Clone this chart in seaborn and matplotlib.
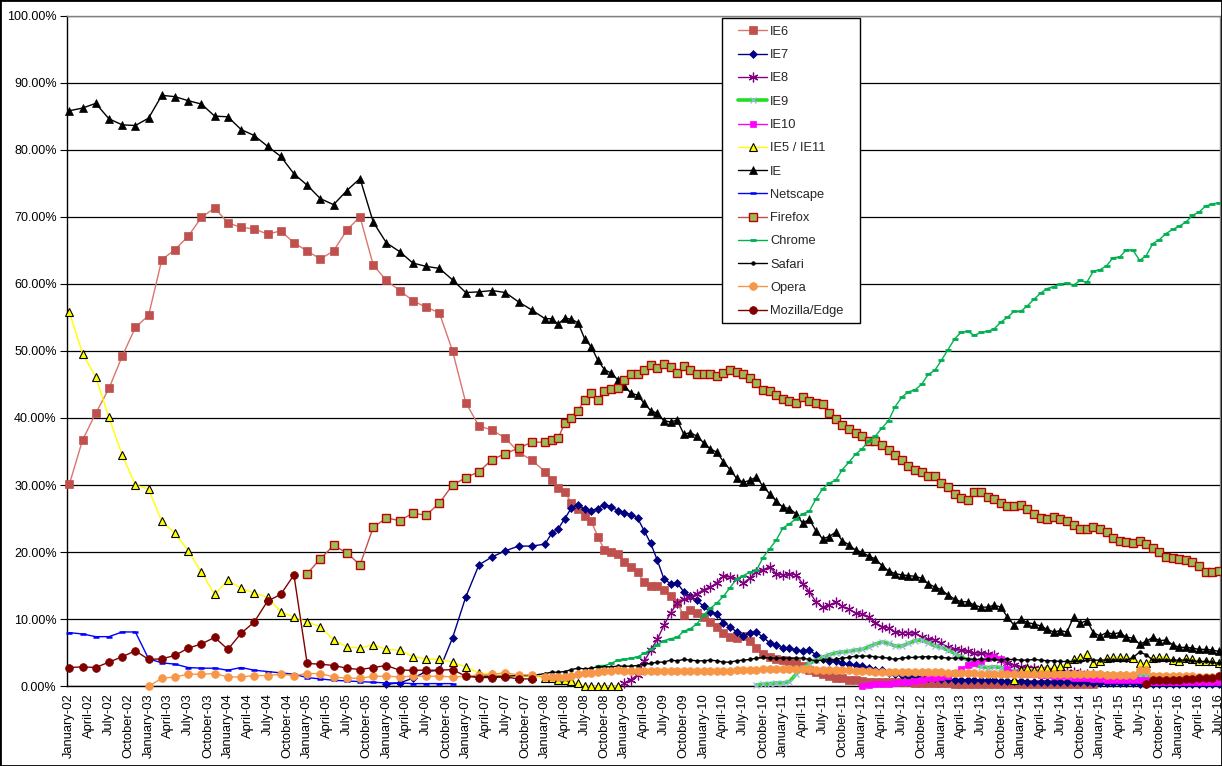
import numpy as np
import pandas as pd
import matplotlib
matplotlib.use("Agg")
import matplotlib.pyplot as plt
from matplotlib.lines import Line2D
from matplotlib.patches import Rectangle
import seaborn as sns

sns.set_style("white")
plt.rcParams['font.family'] = ['Liberation Sans', 'DejaVu Sans']

# ---------------- data ----------------
# samples: every second month 2002-2007, monthly from 2008
sample_dates = list(pd.date_range("2002-01-01", "2007-11-01", freq="2MS")) + \
               list(pd.date_range("2008-01-01", "2016-07-01", freq="MS"))
tick_dates = pd.date_range("2002-01-01", "2016-07-01", freq="3MS")
tick_labels = [d.strftime("%B-%y") for d in tick_dates]

ie6_start = "2002-01"
ie6 = [30.1, 36.7, 40.7, 44.4, 49.2, 53.5, 55.3, 63.6, 65.1, 67.1, 69.9, 71.3, 69.1, 68.4, 68.2, 67.4,
       67.9, 66.1, 64.9, 63.7, 64.9, 68.0, 70.0, 62.8, 60.5, 59.0, 57.5, 56.5, 55.7, 50.0, 42.3, 38.8,
       38.2, 37.0, 34.9, 33.7,
       32.0, 30.7, 29.6, 29.0, 27.3, 26.4, 25.4, 24.6, 22.3, 20.3, 20.0, 19.7, 18.5, 17.8, 17.0, 15.5,
       14.9, 15.0, 14.4, 13.5, 12.4, 10.6, 11.3, 11.0, 10.3, 9.6, 8.9, 7.9, 7.3, 7.2, 7.5, 6.7, 5.7,
       4.8, 4.3, 4.0, 3.9, 3.7, 3.5, 3.0, 2.4, 2.2, 1.9, 1.5, 1.3, 1.2, 1.0, 0.9, 0.8, 0.7,
       0.7, 0.7, 0.6, 0.6, 0.6, 0.6, 0.5, 0.5, 0.5, 0.5, 0.5, 0.5, 0.4, 0.4, 0.4, 0.4, 0.4, 0.4, 0.4,
       0.4, 0.4, 0.3, 0.3, 0.3, 0.3, 0.3, 0.3, 0.3, 0.3, 0.3, 0.3, 0.3, 0.3, 0.3]

ie7_start = "2006-01"
ie7 = [0.3, 0.5, 1.2, 2.2, 2.4, 7.2, 13.3, 18.1, 19.3, 20.2, 20.9, 20.9,
       21.2, 22.8, 23.5, 25.0, 26.6, 27.0, 26.4, 26.2, 26.5, 27.1, 26.8, 26.2, 25.9, 25.6, 25.1, 23.2,
       21.3, 18.8, 16.0, 15.3, 15.4, 14.1, 13.4, 12.8, 11.9, 11.1, 10.8, 9.5, 8.9, 8.1, 7.5, 8.0, 8.1,
       7.3, 6.5, 6.2, 5.7, 5.7, 5.4, 5.3, 5.4, 4.7, 4.0, 3.8, 3.7, 3.5, 3.3, 3.2, 3.0, 2.7, 2.5, 2.4,
       2.0, 1.9,
       1.7, 1.6, 1.5, 1.4, 1.3, 1.2, 1.1, 1.1, 1.0, 1.0, 1.0, 0.9, 0.9, 0.9, 0.9, 0.8, 0.8, 0.8, 0.8,
       0.7, 0.7, 0.7, 0.7, 0.7, 0.6, 0.6, 0.6, 0.6, 0.6, 0.5, 0.5, 0.5, 0.5, 0.5, 0.5, 0.5, 0.4, 0.4,
       0.4, 0.4, 0.4, 0.4, 0.4, 0.4, 0.3, 0.3, 0.3, 0.3, 0.3]

ie8_start = "2009-01"
ie8 = [0.5, 1.0, 1.7, 3.7, 5.4, 7.0, 9.1, 10.9, 12.4, 13.0, 13.3, 13.8, 14.4, 14.8, 15.4, 16.4, 16.3,
       16.0, 15.4, 16.1, 17.1, 17.4, 17.8, 16.8, 16.6, 16.8, 16.6, 15.3, 14.1, 12.6, 11.8, 12.1, 12.5,
       11.9, 11.5, 10.9, 10.8, 10.3, 9.5, 8.9, 8.7, 8.1,
       8.0, 8.0, 7.9, 7.4, 7.0, 6.9, 6.4, 5.8, 5.5, 5.4, 5.2, 5.0, 4.9, 4.8, 4.7, 3.9, 3.4, 3.2, 2.9,
       2.8, 2.7, 2.6, 2.5, 2.4, 2.3, 2.2, 2.1, 2.0, 1.9, 1.8, 1.7, 1.6, 1.6, 1.5, 1.5, 1.4, 1.4, 1.3,
       1.3, 1.2, 1.2, 1.1, 1.1, 1.0, 1.0, 1.0, 0.9, 0.9, 0.9]

ie9_start = "2010-09"
ie9 = [0.2, 0.3, 0.4, 0.5, 0.5, 0.7, 1.8, 2.7, 3.4, 3.9, 4.3, 4.7, 5.0, 5.1, 5.2, 5.4, 5.5, 5.9, 6.3,
       6.6, 6.4, 6.0, 6.0, 6.4, 6.8, 6.9, 6.5, 6.0, 5.8, 5.4, 4.9, 4.4, 3.9, 3.2, 2.9, 2.8, 2.9, 2.8,
       2.4, 2.3, 2.2, 2.2,
       2.1, 2.1, 2.0, 2.0, 2.0, 1.9, 1.9, 1.9, 1.8, 1.8, 1.8, 1.7, 1.7, 1.7, 1.6, 1.6, 1.6, 1.5, 1.5,
       1.5, 1.5, 1.4, 1.4, 1.4, 1.4, 1.3, 1.3, 1.3, 1.3]

ie10_start = "2012-01"
ie10 = [0.1, 0.2, 0.3, 0.4, 0.4, 0.5, 0.6, 0.7, 0.8, 1.0, 1.2, 1.3, 1.4, 1.6, 2.0, 2.6, 3.2, 3.5, 3.8,
        4.2, 4.3, 4.1, 2.6, 2.0, 1.9, 1.8, 1.8, 1.7, 1.7, 1.6, 1.6, 1.5, 1.3, 1.2, 1.2, 1.1, 1.1, 1.0,
        1.0, 1.0, 1.0, 1.0, 1.0, 1.0, 0.7, 0.7, 0.7, 0.7, 0.6, 0.6, 0.6, 0.6, 0.6, 0.6, 0.6]

ie5_start = "2002-01"
ie5 = [55.8, 49.6, 46.1, 40.1, 34.5, 30.0, 29.4, 24.6, 22.8, 20.2, 17.0, 13.7, 15.8, 14.6, 13.9, 13.3,
       11.1, 10.3, 9.6, 8.9, 6.9, 5.9, 5.7, 6.2, 5.5, 5.4, 4.4, 4.1, 4.0, 3.6, 2.9, 2.0, 1.8, 1.8, 1.5,
       1.5,
       1.3, 1.2, 1.0, 0.9, 0.8, 0.5, 0.0, 0.0, 0.0, 0.0, 0.0, 0.0]
ie11_start = "2013-12"
ie11 = [1.0, 2.4, 2.7, 2.5, 2.7, 2.7, 2.9, 3.0, 3.4, 4.0, 4.4, 4.8, 3.5, 3.7, 4.2, 4.3, 4.4, 4.3, 4.2,
        3.5, 3.5, 4.2, 4.3, 4.4, 3.9, 3.8, 4.2, 4.0, 3.8, 3.7, 3.8, 3.4]

ie_start = "2002-01"
ie = [85.8, 86.2, 86.9, 84.6, 83.7, 83.6, 84.7, 88.1, 87.9, 87.3, 86.8, 85.0, 84.9, 83.0, 82.1, 80.5,
      79.0, 76.4, 74.7, 72.7, 71.8, 73.9, 75.7, 69.2, 66.1, 64.8, 63.1, 62.6, 62.3, 60.6, 58.7, 58.8,
      59.0, 58.7, 57.3, 56.1,
      54.8, 54.8, 54.0, 54.9, 54.7, 54.2, 51.8, 50.6, 48.6, 47.2, 46.7, 45.7,
      44.8, 43.7, 43.4, 42.2, 41.1, 40.7, 39.6, 39.4, 39.7, 37.6, 37.8, 37.3, 36.3, 35.4, 34.9, 33.5,
      32.3, 31.0, 30.4, 30.7, 31.2, 29.8, 28.7, 27.6, 26.7, 26.5, 25.7, 24.3, 24.9, 23.2, 22.0, 22.3,
      23.0, 21.7, 21.1, 20.3, 20.0, 19.4, 19.0, 18.0, 17.2, 16.8,
      16.6, 16.5, 16.4, 16.1, 15.3, 14.8, 14.4, 13.6, 13.0, 12.6, 12.6, 12.1, 11.8, 11.8, 12.1, 11.8,
      10.3, 9.1, 10.0, 9.5, 9.3, 9.0, 8.5, 8.1, 8.3, 8.1, 10.3, 9.4, 9.8, 8.0, 7.5, 8.0, 7.8, 8.0,
      7.3, 7.2, 6.3, 6.7, 7.3, 6.8, 6.9, 6.2, 5.8, 5.8, 5.7, 5.5, 5.5, 5.4, 5.2]

netscape_start = "2002-01"
netscape = [8.0, 7.8, 7.4, 7.4, 8.1, 8.1, 4.1, 3.5, 3.3, 2.8, 2.7, 2.7, 2.4, 2.8, 2.4, 2.2, 2.0, 1.8,
            1.3, 1.1, 0.9, 0.8, 0.7, 0.6, 0.5, 0.5, 0.4, 0.4, 0.4, 0.4]

firefox_start = "2005-01"
firefox = [16.8, 19.0, 21.0, 19.9, 18.1, 23.7, 25.1, 24.7, 25.8, 25.5, 27.3, 30.0, 31.1, 32.0, 33.8,
           34.7, 35.5, 36.4,
           36.4, 36.7, 37.0, 39.3, 40.0, 41.1, 42.7, 43.7, 42.7,
           44.0, 44.3, 44.5, 45.7, 46.6, 46.6, 47.2, 47.9, 47.5, 48.1, 47.6, 46.7, 47.7, 47.2, 46.6,
           46.5, 46.6, 46.3, 46.7, 47.1, 46.8, 46.6, 46.0, 45.2, 44.2, 44.0, 43.5, 42.9, 42.5, 42.2,
           43.1, 42.6, 42.3, 42.1, 40.8, 39.9, 38.9, 38.3, 37.8, 37.3, 36.5, 36.5, 35.9, 35.2, 34.5,
           33.8, 32.9, 32.3, 31.9,
           31.4, 31.3, 30.3, 29.7, 28.6, 28.0, 27.8, 29.0, 29.0, 28.2, 27.9, 27.3, 26.9, 26.9, 27.1,
           26.5, 25.7, 25.1, 24.9, 25.2, 24.9, 24.7, 24.1, 23.4, 23.4, 23.7, 23.4, 23.0, 22.1, 21.7,
           21.5, 21.4, 21.7, 21.2, 20.6, 20.0, 19.3, 19.1, 19.0, 18.9, 18.6, 18.0, 17.0, 17.0, 17.2]

chrome_start = "2008-09"
chrome = [3.1, 3.1, 3.4, 3.9, 4.0, 4.2, 4.4, 4.9, 5.5, 6.2, 6.8, 7.1, 7.3, 8.2, 8.6, 9.3, 10.6, 11.6,
          12.4, 13.4, 14.7, 16.0, 16.5, 17.0, 17.3,
          19.2, 20.5, 21.8, 23.6, 24.2, 25.0, 25.7, 26.1, 27.9, 29.4, 30.3, 30.7, 32.3, 33.4, 34.6,
          35.4, 36.6, 37.3, 38.5, 39.6, 41.7, 43.1, 43.9, 44.2, 45.0,
          46.5, 47.1, 48.6, 50.2, 51.8, 52.8, 52.9, 52.3, 52.8, 52.9, 53.3, 54.3, 55.0, 55.9, 55.9,
          56.7, 57.7, 58.6, 59.3, 59.6, 60.0, 60.1, 59.8, 60.5, 60.2, 61.9, 62.1, 62.7, 63.9, 64.0,
          65.1, 65.0, 63.5, 64.2, 66.0, 66.6, 67.5, 68.1, 68.6, 69.2, 70.2, 70.7, 71.6, 71.9, 72.1]

safari_start = "2007-01"
safari = [1.5, 1.5, 1.5, 1.5, 1.6, 1.6,
          1.9, 2.1, 2.1, 2.2, 2.5, 2.7, 2.6, 2.7, 2.9, 2.9, 2.9, 3.0,
          3.0, 3.0, 3.1, 3.3, 3.4, 3.6, 3.6, 3.9, 3.8, 4.0, 3.9, 3.8, 3.8, 3.9, 3.8, 3.6, 3.6, 3.8,
          3.9, 4.0, 4.2, 4.3, 4.2, 4.2, 4.2, 4.2, 4.2, 4.2, 4.0, 3.8, 3.9, 4.0, 4.0, 4.2, 4.3, 4.5,
          4.5, 4.5, 4.4, 4.3, 4.2, 4.0,
          4.2, 4.3, 4.3, 4.4, 4.4, 4.4, 4.3, 4.2, 4.2, 4.2, 4.1, 4.0, 4.0, 4.0, 4.0, 3.9, 4.0, 4.0,
          3.9, 3.9, 4.0, 3.9, 3.8, 3.8, 3.7, 3.7, 3.7, 3.8, 3.9, 3.9, 3.9, 3.9, 3.9, 3.9, 3.9, 4.3,
          5.1, 4.7, 3.9, 3.9, 3.9, 3.9, 3.9, 3.9, 3.8, 3.7, 3.7, 3.6, 3.4]

opera_start = "2003-01"
opera = [0.0, 1.2, 1.4, 1.8, 1.8, 1.9, 1.4, 1.4, 1.6, 1.6, 1.8, 1.6, 1.9, 1.9, 1.4, 1.2, 1.2, 1.5,
         1.5, 1.4, 1.5, 1.5, 1.5, 1.4, 1.5, 1.7, 1.8, 2.0, 1.7, 1.7,
         1.4, 1.4, 1.4, 1.4, 1.5, 1.9, 2.0, 2.0, 2.2, 2.3, 2.3, 2.4,
         2.3, 2.3, 2.3, 2.3, 2.3, 2.3, 2.3, 2.3, 2.3, 2.3, 2.3, 2.3, 2.3, 2.3, 2.3, 2.3, 2.3,
         2.4, 2.4, 2.5, 2.5, 2.6, 2.6, 2.6, 2.6, 2.6, 2.6, 2.6, 2.6,
         2.5, 2.5, 2.4, 2.4, 2.4, 2.4, 2.3, 2.3, 2.3, 2.2, 2.2, 2.2, 2.2,
         2.2, 2.2, 2.2, 2.2, 2.2, 2.1, 2.1, 2.0, 2.0, 2.0, 2.0, 2.0, 1.9, 1.9, 1.9, 1.9, 1.9, 1.9,
         1.9, 1.9, 1.9, 1.9, 1.8, 1.8, 1.8, 1.8, 1.8, 1.8, 1.8, 1.8, 1.8, 1.7, 1.7, 1.7, 1.7, 1.7,
         2.5, 2.4,
         1.6, 1.6, 1.5, 1.5, 1.5, 1.5, 1.5, 1.4, 1.4, 1.4, 1.5]

mozilla_start = "2002-01"
mozilla = [2.8, 2.9, 2.8, 3.6, 4.4, 5.3, 4.0, 4.1, 4.6, 5.7, 6.3, 7.3, 5.5, 7.9, 9.6, 12.7, 13.7,
           16.6, 3.4, 3.3, 3.1, 2.7, 2.5, 2.8, 3.1, 2.4, 2.4, 2.4, 2.4, 2.5, 1.5, 1.3, 1.3, 1.4, 1.1,
           1.1]
edge_start = "2015-08"
edge = [0.3, 0.9, 0.9, 1.0, 1.0, 1.0, 1.1, 1.1, 1.2, 1.2, 1.3, 1.5]

# ---------------- helpers ----------------
month_idx = np.array([(d.year - 2002) * 12 + d.month - 1 for d in sample_dates], dtype=float)
keys = [d.strftime("%Y-%m") for d in sample_dates]


def seg(start, vals):
    i = keys.index(start)
    return month_idx[i:i + len(vals)], np.array(vals, dtype=float)


styles = [
    ("IE6", [seg(ie6_start, ie6)], dict(color="#D9756F", marker="s", markersize=5.2,
                                         markerfacecolor="#C0504D", markeredgecolor="#C0504D",
                                         markeredgewidth=0.5, linewidth=1.0)),
    ("IE7", [seg(ie7_start, ie7)], dict(color="#000080", marker="D", markersize=3.6,
                                         markerfacecolor="#000080", markeredgecolor="#000080",
                                         markeredgewidth=0.5, linewidth=1.0)),
    ("IE8", [seg(ie8_start, ie8)], dict(color="#800080", marker=(6, 2, 0), markersize=7,
                                         markerfacecolor="#800080", markeredgecolor="#800080",
                                         markeredgewidth=0.9, linewidth=1.0)),
    ("IE9", [seg(ie9_start, ie9)], dict(color="#22DD22", marker="x", markersize=5,
                                         markerfacecolor="#9DB5E0", markeredgecolor="#9DB5E0",
                                         markeredgewidth=0.9, linewidth=2.6)),
    ("IE10", [seg(ie10_start, ie10)], dict(color="#FF00FF", marker="s", markersize=5,
                                           markerfacecolor="#FF00FF", markeredgecolor="#FF00FF",
                                           markeredgewidth=0.5, linewidth=1.0)),
    ("IE5 / IE11", [seg(ie5_start, ie5), seg(ie11_start, ie11)],
     dict(color="#FFFF00", marker="^", markersize=5.2, markerfacecolor="#FFFF00",
          markeredgecolor="black", markeredgewidth=0.8, linewidth=1.0)),
    ("IE", [seg(ie_start, ie)], dict(color="black", marker="^", markersize=5.6,
                                       markerfacecolor="black", markeredgecolor="black",
                                       markeredgewidth=0.5, linewidth=1.0)),
    ("Netscape", [seg(netscape_start, netscape)], dict(color="#0000FF", marker="_", markersize=4,
                                                        markerfacecolor="#0000FF",
                                                        markeredgecolor="#0000FF",
                                                        markeredgewidth=1.8, linewidth=1.0)),
    ("Firefox", [seg(firefox_start, firefox)], dict(color="#C0504D", marker="s", markersize=5.6,
                                                     markerfacecolor="#9BBB59",
                                                     markeredgecolor="#C00000",
                                                     markeredgewidth=1.0, linewidth=1.0)),
    ("Chrome", [seg(chrome_start, chrome)], dict(color="#00B050", marker="_", markersize=4.5,
                                                  markerfacecolor="#00B050",
                                                  markeredgecolor="#00B050",
                                                  markeredgewidth=2.0, linewidth=1.0)),
    ("Safari", [seg(safari_start, safari)], dict(color="black", marker="o", markersize=2.6,
                                                  markerfacecolor="black", markeredgecolor="black",
                                                  markeredgewidth=0.5, linewidth=1.0)),
    ("Opera", [seg(opera_start, opera)], dict(color="#F79646", marker="o", markersize=5.6,
                                               markerfacecolor="#F79646", markeredgecolor="#F79646",
                                               markeredgewidth=0.5, linewidth=1.0)),
    ("Mozilla/Edge", [seg(mozilla_start, mozilla), seg(edge_start, edge)],
     dict(color="#800000", marker="o", markersize=5.6, markerfacecolor="#800000",
          markeredgecolor="#800000", markeredgewidth=0.5, linewidth=1.0)),
]

# ---------------- figure ----------------
W, H = 1222, 766
fig = plt.figure(figsize=(W / 100, H / 100), dpi=100)
x0, x1, y0, y1 = 67, 1220, 686.3, 15.5
ax = fig.add_axes([x0 / W, 1 - y0 / H, (x1 - x0) / W, (y0 - y1) / H])

handles = []
for z, (name, segs, st) in enumerate(styles):
    for xs, ys in segs:
        sns.lineplot(x=xs, y=ys, ax=ax, estimator=None, sort=False, legend=False,
                     zorder=3 + z, clip_on=False, **st)
    handles.append(Line2D([0], [0], **st))

px_per_month = 6.607
ax.set_xlim((x0 - 69.3) / px_per_month, (x1 - 69.3) / px_per_month)
ax.set_ylim(0, 100)

ax.set_yticks(np.arange(0, 101, 10))
ax.set_yticklabels([f"{v:.2f}%" for v in np.arange(0, 101, 10)])
tick_pos = [(d.year - 2002) * 12 + d.month - 1 for d in tick_dates]
ax.set_xticks(tick_pos)
ax.set_xticklabels(tick_labels, rotation=90, va="top", ha="center")
ax.set_xticks([p - 0.35 for p in tick_pos], minor=True)
ax.tick_params(axis="x", which="major", length=0, pad=5, labelsize=9.3, colors="black")
ax.tick_params(axis="x", which="minor", length=5, width=0.8, color="black", direction="out")
ax.tick_params(axis="y", length=5, width=0.8, pad=2.5, labelsize=9.0, direction="out",
               colors="black", left=True)
ax.set_xlabel("")
ax.set_ylabel("")

ax.yaxis.grid(True, color="black", linewidth=0.9)
ax.xaxis.grid(False)
ax.set_axisbelow(True)
for s in ("left", "bottom"):
    ax.spines[s].set_color("black")
    ax.spines[s].set_linewidth(1.0)
for s in ("top", "right"):
    ax.spines[s].set_color("#808080")
    ax.spines[s].set_linewidth(1.0)

# legend box (drawn separately so its size matches the reference)
fig.patches.append(Rectangle((722 / W, 1 - 323 / H), 138 / W, 305 / H,
                             transform=fig.transFigure, facecolor="white",
                             edgecolor="black", linewidth=1.0, zorder=40))
leg = fig.legend(handles, [s[0] for s in styles], loc="upper left",
                 bbox_to_anchor=(730 / W, 1 - 17.5 / H), bbox_transform=fig.transFigure,
                 frameon=False, fontsize=9.3,
                 labelspacing=0.87, handlelength=2.2, handletextpad=0.25,
                 borderpad=0.65, borderaxespad=0)
leg.set_zorder(50)

fig.patches.append(Rectangle((0, 0), 1, 1, transform=fig.transFigure, fill=False,
                             edgecolor="black", linewidth=2.0, zorder=100))

fig.savefig("out.png", dpi=100)
